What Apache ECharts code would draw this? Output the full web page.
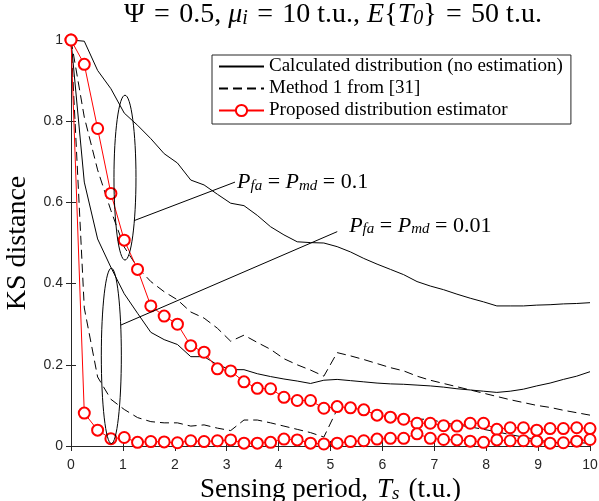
<!DOCTYPE html>
<html>
<head>
<meta charset="utf-8">
<script src="https://cdn.jsdelivr.net/npm/echarts@6/dist/echarts.min.js"></script>
<style>html,body{margin:0;padding:0;background:#fff}#main{width:599px;height:501px}</style>
</head>
<body>
<div id="main"></div>
<script>
// sensing period Ts (t.u.), 40 points over 0..10
var ts = [0, 0.256, 0.513, 0.769, 1.026, 1.282, 1.538, 1.795, 2.051, 2.308,
  2.564, 2.821, 3.077, 3.333, 3.590, 3.846, 4.103, 4.359, 4.615, 4.872,
  5.128, 5.385, 5.641, 5.897, 6.154, 6.410, 6.667, 6.923, 7.179, 7.436,
  7.692, 7.949, 8.205, 8.462, 8.718, 8.974, 9.231, 9.487, 9.744, 10];

// KS distance, Pfa = Pmd = 0.1
var calcHigh = [1.0, 0.997, 0.925, 0.88, 0.82, 0.79, 0.757, 0.72, 0.697, 0.655,
  0.643, 0.62, 0.598, 0.592, 0.568, 0.54, 0.52, 0.503, 0.501, 0.5,
  0.491, 0.478, 0.462, 0.448, 0.435, 0.422, 0.405, 0.394, 0.385, 0.374,
  0.364, 0.355, 0.345, 0.345, 0.345, 0.347, 0.348, 0.35, 0.351, 0.353];
var m1High = [1.0, 0.81, 0.68, 0.58, 0.49, 0.44, 0.405, 0.38, 0.36, 0.33,
  0.315, 0.29, 0.258, 0.273, 0.255, 0.238, 0.215, 0.2, 0.187, 0.172,
  0.23, 0.222, 0.213, 0.203, 0.193, 0.185, 0.172, 0.162, 0.154, 0.146,
  0.138, 0.13, 0.122, 0.114, 0.107, 0.1, 0.095, 0.088, 0.082, 0.076];
var propHigh = [1.0, 0.94, 0.782, 0.622, 0.507, 0.435, 0.345, 0.32, 0.30, 0.247,
  0.231, 0.19, 0.185, 0.158, 0.142, 0.141, 0.12, 0.112, 0.112, 0.093,
  0.097, 0.094, 0.089, 0.076, 0.071, 0.066, 0.056, 0.056, 0.05, 0.049,
  0.056, 0.056, 0.041, 0.045, 0.045, 0.039, 0.043, 0.043, 0.045, 0.043];

// KS distance, Pfa = Pmd = 0.01
var calcLow = [1.0, 0.65, 0.51, 0.44, 0.375, 0.327, 0.28, 0.262, 0.25, 0.22,
  0.22, 0.2, 0.188, 0.188, 0.178, 0.171, 0.165, 0.16, 0.154, 0.162,
  0.164, 0.161, 0.158, 0.155, 0.153, 0.152, 0.15, 0.148, 0.145, 0.141,
  0.138, 0.135, 0.132, 0.135, 0.14, 0.148, 0.155, 0.164, 0.172, 0.183];
var m1Low = [1.0, 0.34, 0.17, 0.115, 0.09, 0.07, 0.06, 0.057, 0.057, 0.049,
  0.052, 0.044, 0.038, 0.064, 0.064, 0.057, 0.049, 0.041, 0.033, 0.022,
  0.09, 0.087, 0.084, 0.08, 0.076, 0.072, 0.066, 0.066, 0.057, 0.052,
  0.047, 0.041, 0.035, 0.028, 0.022, 0.016, 0.009, 0.008, 0.008, 0.007];
var propLow = [1.0, 0.081, 0.039, 0.018, 0.021, 0.009, 0.011, 0.01, 0.008, 0.013,
  0.011, 0.013, 0.015, 0.007, 0.007, 0.009, 0.017, 0.015, 0.007, 0.005,
  0.007, 0.011, 0.013, 0.017, 0.019, 0.019, 0.03, 0.019, 0.016, 0.015,
  0.012, 0.009, 0.015, 0.013, 0.013, 0.012, 0.007, 0.008, 0.012, 0.016];

var names = ['Calculated distribution (no estimation)', 'Method 1 from [31]', 'Proposed distribution estimator'];

var serif = "'Liberation Serif','DejaVu Serif',serif";
var sans = "'Liberation Sans',Arial,sans-serif";
var axisCol = '#262626';
var sp = '\u2004'; // a bit wider than a normal space, like LaTeX math spacing

function pairs(ys) {
  return ts.map(function (t, i) { return [t, ys[i]]; });
}

function richFor(size) {
  return {
    i: { fontFamily: serif, fontStyle: 'italic', fontSize: size, color: '#000' },
    s: { fontFamily: serif, fontStyle: 'italic', fontSize: Math.round(size * 0.7), color: '#000',
      verticalAlign: 'bottom', padding: [Math.round(size * 0.3), 0, 0, 0] }
  };
}

function blackLine(name, data, dashed) {
  return {
    name: name, type: 'line', data: pairs(data), symbol: 'none', z: 2,
    lineStyle: { color: '#000', width: 1, type: dashed ? [9, 5] : 'solid' },
    itemStyle: { color: '#000' }
  };
}
function redLine(data) {
  return {
    name: names[2], type: 'line', data: pairs(data), symbol: 'emptyCircle', symbolSize: 11, z: 3,
    lineStyle: { color: '#ff0000', width: 1 },
    itemStyle: { color: '#ff0000', borderWidth: 1 }
  };
}

var chart = echarts.init(document.getElementById('main'));
chart.setOption({
  animation: false,
  title: {
    text: 'Ψ' + sp + '=' + sp + '0.5, {i|μ}{s|i}' + sp + '=' + sp + '10 t.u., {i|E}{{i|T}{s|0}}' + sp + '=' + sp + '50 t.u.',
    left: 328, top: -4, textAlign: 'center',
    textStyle: { fontFamily: serif, fontSize: 28, fontWeight: 'normal', color: '#000', rich: richFor(28) }
  },
  legend: {
    data: [
      { name: names[0], itemStyle: { opacity: 0 } },
      { name: names[1], itemStyle: { opacity: 0 } },
      { name: names[2] }
    ],
    orient: 'vertical', left: 212, top: 55,
    itemWidth: 45, itemHeight: 14, itemGap: 3, padding: [2, 8, 4, 6],
    borderColor: axisCol, borderWidth: 1, backgroundColor: '#fff',
    textStyle: { fontFamily: serif, fontSize: 19, color: '#000' }
  },
  grid: { left: 71, right: 9, top: 40, bottom: 55, outerBoundsMode: 'none' },
  xAxis: [{
    type: 'value', min: 0, max: 10, interval: 1,
    name: 'Sensing period,' + sp + '{i|T}{s|s}' + sp + '(t.u.)', nameLocation: 'middle', nameGap: 26,
    nameTextStyle: { fontFamily: serif, fontSize: 27, color: '#000', rich: richFor(27) },
    axisLine: { lineStyle: { color: axisCol } },
    axisTick: { inside: true, length: 5, lineStyle: { color: axisCol } },
    axisLabel: { fontFamily: sans, fontSize: 14, color: axisCol, margin: 12 },
    splitLine: { show: false }
  }, {
    type: 'value', min: 0, max: 10, interval: 1, position: 'top',
    axisLine: { lineStyle: { color: axisCol } },
    axisTick: { inside: true, length: 5, lineStyle: { color: axisCol } },
    axisLabel: { show: false }, splitLine: { show: false }
  }],
  yAxis: [{
    type: 'value', min: 0, max: 1, interval: 0.2,
    name: 'KS distance', nameLocation: 'middle', nameGap: 39,
    nameTextStyle: { fontFamily: serif, fontSize: 28, color: '#000' },
    axisLine: { show: true, lineStyle: { color: axisCol } },
    axisTick: { show: true, inside: true, length: 5, lineStyle: { color: axisCol } },
    axisLabel: { fontFamily: sans, fontSize: 14, color: axisCol, margin: 8,
      formatter: function (v) { return v === 0 || v === 1 ? String(v) : v.toFixed(1); } },
    splitLine: { show: false }
  }, {
    type: 'value', min: 0, max: 1, interval: 0.2, position: 'right',
    axisLine: { show: true, lineStyle: { color: axisCol } },
    axisTick: { show: true, inside: true, length: 5, lineStyle: { color: axisCol } },
    axisLabel: { show: false }, splitLine: { show: false }
  }],
  series: [
    blackLine(names[0], calcHigh, false),
    blackLine(names[0], calcLow, false),
    blackLine(names[1], m1High, true),
    blackLine(names[1], m1Low, true),
    redLine(propHigh),
    redLine(propLow)
  ]
});

// annotations (ellipses around each Pfa group, leader lines, labels), in data coords
var groups = [
  { c: [1.04, 0.661], r: [0.212, 0.203], from: [1.214, 0.555], to: [3.16, 0.65], label: [3.2, 0.65], val: '0.1' },
  { c: [0.777, 0.222], r: [0.193, 0.216], from: [0.963, 0.298], to: [5.13, 0.528], label: [5.36, 0.542], val: '0.01' }
];
function px(p) { return chart.convertToPixel({ gridIndex: 0 }, p); }
var gfx = [];
groups.forEach(function (g) {
  var c = px(g.c), e = px([g.c[0] + g.r[0], g.c[1] + g.r[1]]);
  var a = px(g.from), b = px(g.to), t = px(g.label);
  gfx.push({ type: 'ellipse', z: 10, shape: { cx: c[0], cy: c[1], rx: e[0] - c[0], ry: c[1] - e[1] },
    style: { fill: null, stroke: '#000', lineWidth: 1 } });
  gfx.push({ type: 'line', z: 10, shape: { x1: a[0], y1: a[1], x2: b[0], y2: b[1] },
    style: { stroke: '#000', lineWidth: 1 } });
  gfx.push({ type: 'text', z: 10, x: t[0], y: t[1],
    style: { text: '{i|P}{s|fa} = {i|P}{s|md} = ' + g.val, fontFamily: serif, fontSize: 22, fill: '#000',
      verticalAlign: 'middle', align: 'left', rich: richFor(22) } });
});
chart.setOption({ graphic: gfx });
</script>
</body>
</html>
